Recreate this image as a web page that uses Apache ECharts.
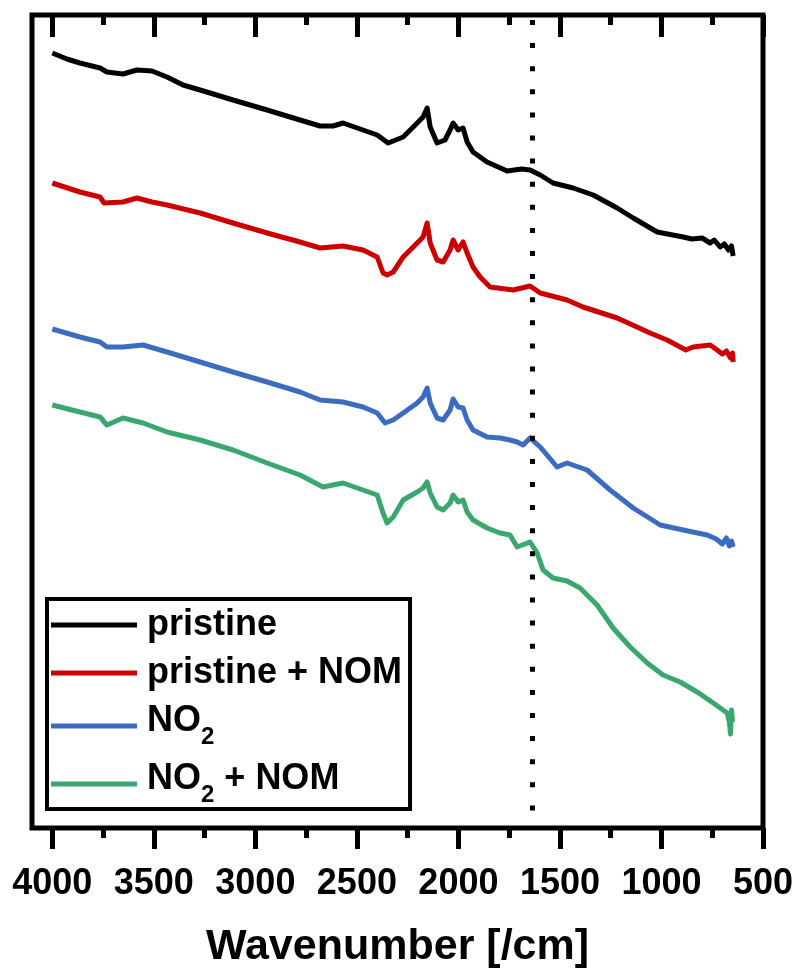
<!DOCTYPE html>
<html>
<head>
<meta charset="utf-8">
<script src="https://cdn.jsdelivr.net/npm/echarts@6/dist/echarts.min.js"></script>
<style>
  html, body { margin: 0; padding: 0; background: #fff; }
  #chart { width: 798px; height: 976px; }
</style>
</head>
<body>
<div id="chart"></div>
<script>
// ---- Data (wavenumber [/cm], offset intensity [a.u.]) ----
const majorTicks = [4000, 3500, 3000, 2500, 2000, 1500, 1000, 500];
const minorTicks = [3750, 3250, 2750, 2250, 1750, 1250, 750];
const markerWavenumber = 1635;

const pristineX = [4000,3928,3864,3765,3731,3652,3583,3509,3435,3356,3272,3110,2942,2780,2681,2617,2568,2470,2400,2346,2272,2203,2174,2154,2139,2105,2066,2041,2026,2001,1977,1957,1928,1859,1760,1690,1647,1597,1534,1435,1336,1218,1139,1021,893,850,800,760,740,711,690,670,655,647];
const pristineY = [775,769,765,760,756,754,758,757,751,743,738,728,718,708,702,702,705,698,693,685,691,705,711,720,701,685,688,698,705,698,700,686,676,666,657,659,658,653,645,640,633,620,610,596,591,589,590,585,588,581,584,578,582,572];

const pristineNomX = [4000,3864,3765,3745,3652,3583,3509,3435,3272,3110,2942,2780,2681,2568,2470,2400,2371,2351,2321,2272,2203,2174,2154,2139,2105,2075,2041,2026,2001,1977,1957,1928,1893,1844,1730,1647,1597,1465,1386,1218,1056,972,880,844,760,726,700,680,660,650,647];
const pristineNomY = [645,636,631,625,626,630,626,623,615,605,595,586,580,582,578,571,555,553,556,571,585,591,605,585,568,566,578,588,578,586,575,561,551,541,538,542,535,528,521,510,495,488,478,481,483,478,474,477,470,475,466];

const no2X = [4000,3864,3765,3731,3652,3553,3435,3272,3110,2942,2780,2681,2568,2470,2400,2361,2321,2272,2203,2174,2154,2139,2105,2075,2041,2026,2001,1977,1957,1928,1859,1795,1746,1711,1681,1647,1597,1514,1465,1366,1253,1139,1006,893,775,730,700,680,665,655,647];
const no2Y = [499,491,486,481,481,483,476,466,456,446,436,428,426,421,415,405,408,415,425,431,440,425,410,408,418,429,421,420,408,398,391,390,388,386,383,390,381,361,365,358,338,320,303,298,293,289,284,290,282,287,281];

const no2NomX = [4000,3864,3765,3731,3652,3553,3435,3272,3110,2942,2780,2667,2568,2470,2400,2371,2351,2321,2272,2203,2174,2154,2139,2105,2075,2041,2026,2001,1977,1957,1928,1859,1795,1746,1711,1647,1612,1583,1534,1465,1401,1317,1238,1154,1070,992,908,824,745,676,665,660,655,650];
const no2NomY = [423,416,411,403,410,405,396,388,378,365,353,341,345,338,333,315,305,311,328,336,340,346,335,321,318,325,333,326,328,316,308,300,295,293,281,286,275,258,250,247,240,223,200,181,165,153,146,136,125,115,105,94,118,106];

const seriesNames = ['pristine', 'pristine + NOM', 'NO2', 'NO2 + NOM'];
const seriesColors = ['#000000', '#cc0000', '#3c6cbf', '#3aa86e'];
// -----------------------------------------------------------

function pairs(xs, ys) { return xs.map((x, i) => [x, ys[i]]); }
const seriesData = [
  pairs(pristineX, pristineY),
  pairs(pristineNomX, pristineNomY),
  pairs(no2X, no2Y),
  pairs(no2NomX, no2NomY)
];

const FONT = '"Liberation Sans", Arial, sans-serif';

function baseAxis(extra) {
  return Object.assign({
    type: 'value',
    min: 499.9,
    max: 4100,
    inverse: true,
    axisLine: { show: false, onZero: false },
    splitLine: { show: false },
    axisLabel: { show: false },
  }, extra);
}

const chart = echarts.init(document.getElementById('chart'), null, { renderer: 'canvas' });

const option = {
  animation: false,
  backgroundColor: '#ffffff',
  grid: {
    left: 32, right: 35, top: 15, bottom: 148,
    show: true,
    borderColor: '#000',
    borderWidth: 5,
    backgroundColor: 'transparent'
  },
  xAxis: [
    baseAxis({
      position: 'bottom',
      name: 'Wavenumber [/cm]',
      nameLocation: 'middle',
      nameGap: 98,
      nameTextStyle: { color: '#000', fontSize: 43, fontWeight: 'bold', fontFamily: FONT },
      axisTick: { show: true, inside: false, length: 21, customValues: majorTicks,
        lineStyle: { color: '#000', width: 5 } },
      axisLabel: { show: true, customValues: majorTicks, margin: 38,
        showMinLabel: true, showMaxLabel: true,
        formatter: function (v) { return String(Math.round(v)); },
        color: '#000', fontSize: 36, fontWeight: 'bold', fontFamily: FONT }
    }),
    baseAxis({
      position: 'bottom',
      axisTick: { show: true, inside: false, length: 10, customValues: minorTicks,
        lineStyle: { color: '#000', width: 5 } }
    }),
    baseAxis({
      position: 'top',
      axisTick: { show: true, inside: true, length: 22, customValues: majorTicks,
        lineStyle: { color: '#000', width: 5 } }
    }),
    baseAxis({
      position: 'top',
      axisTick: { show: true, inside: true, length: 10, customValues: minorTicks,
        lineStyle: { color: '#000', width: 5 } }
    })
  ],
  yAxis: {
    type: 'value',
    min: 0,
    max: 813,
    show: false
  },
  legend: {
    orient: 'vertical',
    left: 47,
    top: 599,
    padding: [8, 8, 2, 4],
    itemGap: 12,
    itemWidth: 86,
    itemHeight: 5,
    icon: 'rect',
    borderColor: '#000',
    borderWidth: 4,
    backgroundColor: '#fff',
    data: seriesNames,
    formatter: function (name) {
      if (name.indexOf('NO2') === 0) {
        const rest = name.slice(3);
        return '{b|NO}{s|2}' + (rest ? '{c|' + rest + '}' : '');
      }
      return '{p|' + name + '}';
    },
    textStyle: {
      color: '#000', fontSize: 36, fontWeight: 'bold', fontFamily: FONT,
      rich: {
        p: { color: '#000', fontSize: 36, fontWeight: 'bold', fontFamily: FONT, padding: [0, 0, 0, 5] },
        b: { color: '#000', fontSize: 36, fontWeight: 'bold', fontFamily: FONT, padding: [0, 0, 10, 5] },
        c: { color: '#000', fontSize: 36, fontWeight: 'bold', fontFamily: FONT, padding: [0, 0, 10, 0] },
        s: { color: '#000', fontSize: 24, fontWeight: 'bold', fontFamily: FONT, padding: [22, 0, 0, 0] }
      }
    }
  },
  series: seriesData.map((d, i) => {
    const s = {
      name: seriesNames[i],
      type: 'line',
      xAxisIndex: 0,
      data: d,
      symbol: 'none',
      showSymbol: false,
      sampling: 'none',
      lineStyle: { color: seriesColors[i], width: 5, join: 'round' },
      itemStyle: { color: seriesColors[i] },
      z: 2
    };
    if (i === 0) {
      s.markLine = {
        silent: true,
        symbol: ['none', 'none'],
        label: { show: false },
        lineStyle: { color: '#000', width: 5, type: [5, 18.1], cap: 'butt' },
        data: [[{ coord: [markerWavenumber, 808] }, { coord: [markerWavenumber, 16] }]]
      };
    }
    return s;
  })
};

chart.setOption(option);
</script>
</body>
</html>
